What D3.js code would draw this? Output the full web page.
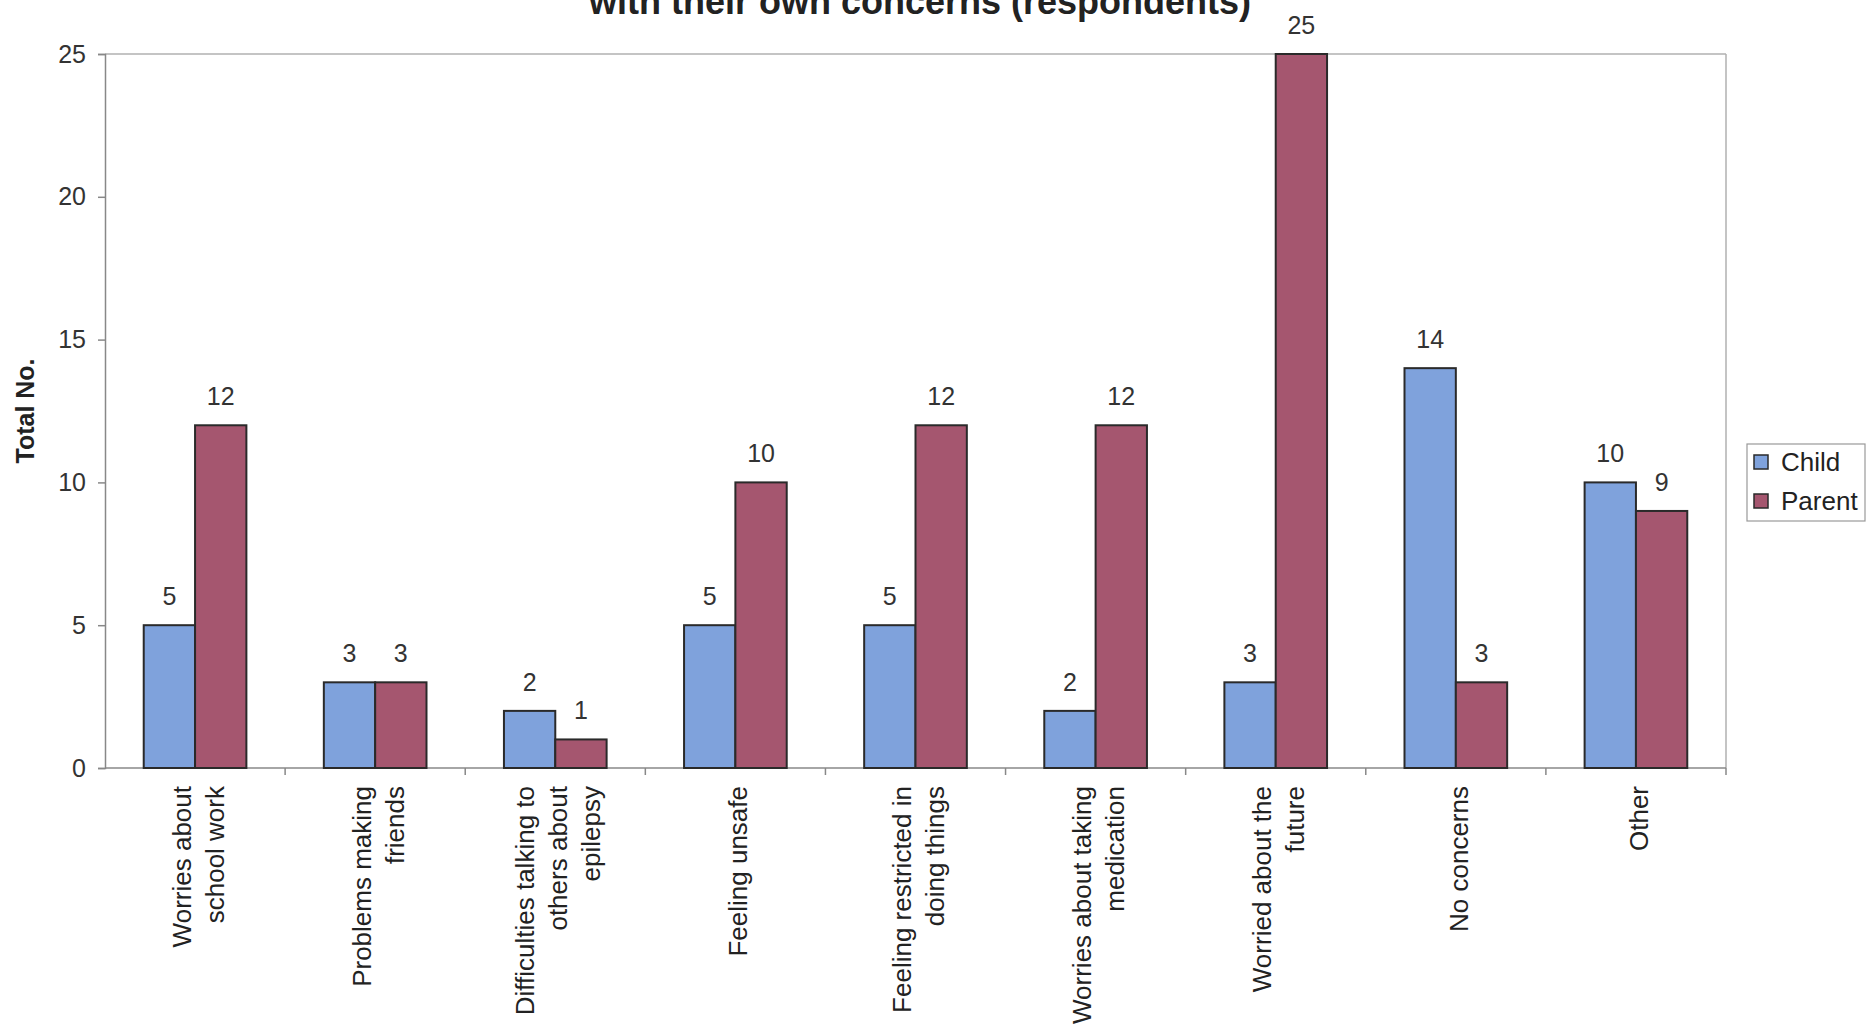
<!DOCTYPE html>
<html>
<head>
<meta charset="utf-8">
<script src="https://cdn.jsdelivr.net/npm/d3@7"></script>
<style>
  html, body { margin: 0; padding: 0; background: #ffffff; }
  svg { display: block; font-family: Arial, "Liberation Sans", sans-serif; }
</style>
</head>
<body>
<svg id="chart" width="1872" height="1026"></svg>
<script>
const categories = [
  ["Worries about", "school work"],
  ["Problems making", "friends"],
  ["Difficulties talking to", "others about", "epilepsy"],
  ["Feeling unsafe"],
  ["Feeling restricted in", "doing things"],
  ["Worries about taking", "medication"],
  ["Worried about the", "future"],
  ["No concerns"],
  ["Other"]
];
const childValues  = [5, 3, 2, 5, 5, 2, 3, 14, 10];
const parentValues = [12, 3, 1, 10, 12, 12, 25, 3, 9];
const seriesNames  = ["Child", "Parent"];
const yTicks       = [0, 5, 10, 15, 20, 25];
const titleText    = "with their own concerns (respondents)";
const yTitle       = "Total No.";

const colors = { Child: "#7fa2dc", Parent: "#a5566f" };

const svg = d3.select("#chart");
const W = 1872, H = 1026;
const plot = { left: 105, right: 1726, top: 54, bottom: 768 };

const rows = categories.map((c, i) => ({ idx: i, lines: c, Child: childValues[i], Parent: parentValues[i] }));

const x0 = d3.scaleBand().domain(d3.range(categories.length)).range([plot.left, plot.right]).paddingInner(0).paddingOuter(0);
const groupW = x0.bandwidth() * 0.57;
const x1 = d3.scaleBand().domain(seriesNames).range([0, groupW]).padding(0);
const y = d3.scaleLinear().domain([0, 25]).range([plot.bottom, plot.top]);

// Plot frame (top and right)
svg.append("line").attr("x1", plot.left).attr("x2", plot.right).attr("y1", plot.top).attr("y2", plot.top)
  .attr("stroke", "#b0b0b0").attr("stroke-width", 1.5);
svg.append("line").attr("x1", plot.right).attr("x2", plot.right).attr("y1", plot.top).attr("y2", plot.bottom)
  .attr("stroke", "#b0b0b0").attr("stroke-width", 1.5);

// Y axis
const yAxis = d3.axisLeft(y).tickValues(yTicks).tickSize(7).tickPadding(12);
const gy = svg.append("g").attr("transform", `translate(${plot.left},0)`).call(yAxis);
gy.select(".domain").attr("stroke", "#888").attr("stroke-width", 1.5);
gy.selectAll(".tick line").attr("stroke", "#888").attr("stroke-width", 1.5);
gy.selectAll(".tick text").attr("font-size", 25).attr("fill", "#333").attr("font-family", "Arial, 'Liberation Sans', sans-serif");

// X axis (ticks at category boundaries)
const xBoundary = d3.scaleLinear().domain([0, categories.length]).range([plot.left, plot.right]);
svg.append("line").attr("x1", plot.left).attr("x2", plot.right).attr("y1", plot.bottom).attr("y2", plot.bottom)
  .attr("stroke", "#888").attr("stroke-width", 1.5);
svg.selectAll(".xtick").data(d3.range(1, categories.length + 1)).enter().append("line")
  .attr("class", "xtick")
  .attr("x1", d => xBoundary(d)).attr("x2", d => xBoundary(d))
  .attr("y1", plot.bottom).attr("y2", plot.bottom + 7)
  .attr("stroke", "#888").attr("stroke-width", 1.5);

// Bars
const groups = svg.selectAll(".grp").data(rows).enter().append("g")
  .attr("class", "grp")
  .attr("transform", d => `translate(${x0(d.idx) + (x0.bandwidth() - groupW) / 2},0)`);

groups.selectAll("rect").data(d => seriesNames.map(s => ({ s, v: d[s] }))).enter().append("rect")
  .attr("x", d => x1(d.s))
  .attr("y", d => y(d.v))
  .attr("width", x1.bandwidth())
  .attr("height", d => y(0) - y(d.v))
  .attr("fill", d => colors[d.s])
  .attr("stroke", "#2a2a2a")
  .attr("stroke-width", 2);

groups.selectAll(".val").data(d => seriesNames.map(s => ({ s, v: d[s] }))).enter().append("text")
  .attr("class", "val")
  .attr("x", d => x1(d.s) + x1.bandwidth() / 2)
  .attr("y", d => y(d.v) - 20)
  .attr("text-anchor", "middle")
  .attr("font-size", 25)
  .attr("fill", "#333")
  .text(d => d.v);

// Category labels (rotated)
const lineH = 33;
svg.selectAll(".xlab").data(rows).enter().append("text")
  .attr("class", "xlab")
  .attr("transform", d => `translate(${x0(d.idx) + x0.bandwidth() / 2 + 3},${plot.bottom + 18}) rotate(-90)`)
  .attr("text-anchor", "end")
  .attr("font-size", 26)
  .attr("fill", "#222")
  .each(function(d) {
    const n = d.lines.length;
    d3.select(this).selectAll("tspan").data(d.lines).enter().append("tspan")
      .attr("x", 0)
      .attr("y", (l, i) => (i - (n - 1) / 2) * lineH)
      .attr("dy", "0.35em")
      .text(l => l);
  });

// Title
svg.append("text")
  .attr("x", 920).attr("y", 14)
  .attr("text-anchor", "middle")
  .attr("font-size", 36).attr("font-weight", "bold")
  .attr("fill", "#222")
  .text(titleText);

// Y title
svg.append("text")
  .attr("transform", `translate(34,${(plot.top + plot.bottom) / 2}) rotate(-90)`)
  .attr("text-anchor", "middle")
  .attr("font-size", 25).attr("font-weight", "bold")
  .attr("fill", "#222")
  .text(yTitle);

// Legend
const lg = svg.append("g").attr("transform", "translate(1747,444)");
lg.append("rect").attr("width", 118).attr("height", 77).attr("fill", "#fff").attr("stroke", "#999").attr("stroke-width", 1.2);
const li = lg.selectAll(".li").data(seriesNames).enter().append("g")
  .attr("transform", (d, i) => `translate(7,${18 + i * 39})`);
li.append("rect").attr("x", 0).attr("y", -7).attr("width", 14).attr("height", 14)
  .attr("fill", d => colors[d]).attr("stroke", "#2a2a2a").attr("stroke-width", 1.5);
li.append("text").attr("x", 27).attr("y", 0).attr("dy", "0.35em")
  .attr("font-size", 26).attr("fill", "#222").text(d => d);
</script>
</body>
</html>
